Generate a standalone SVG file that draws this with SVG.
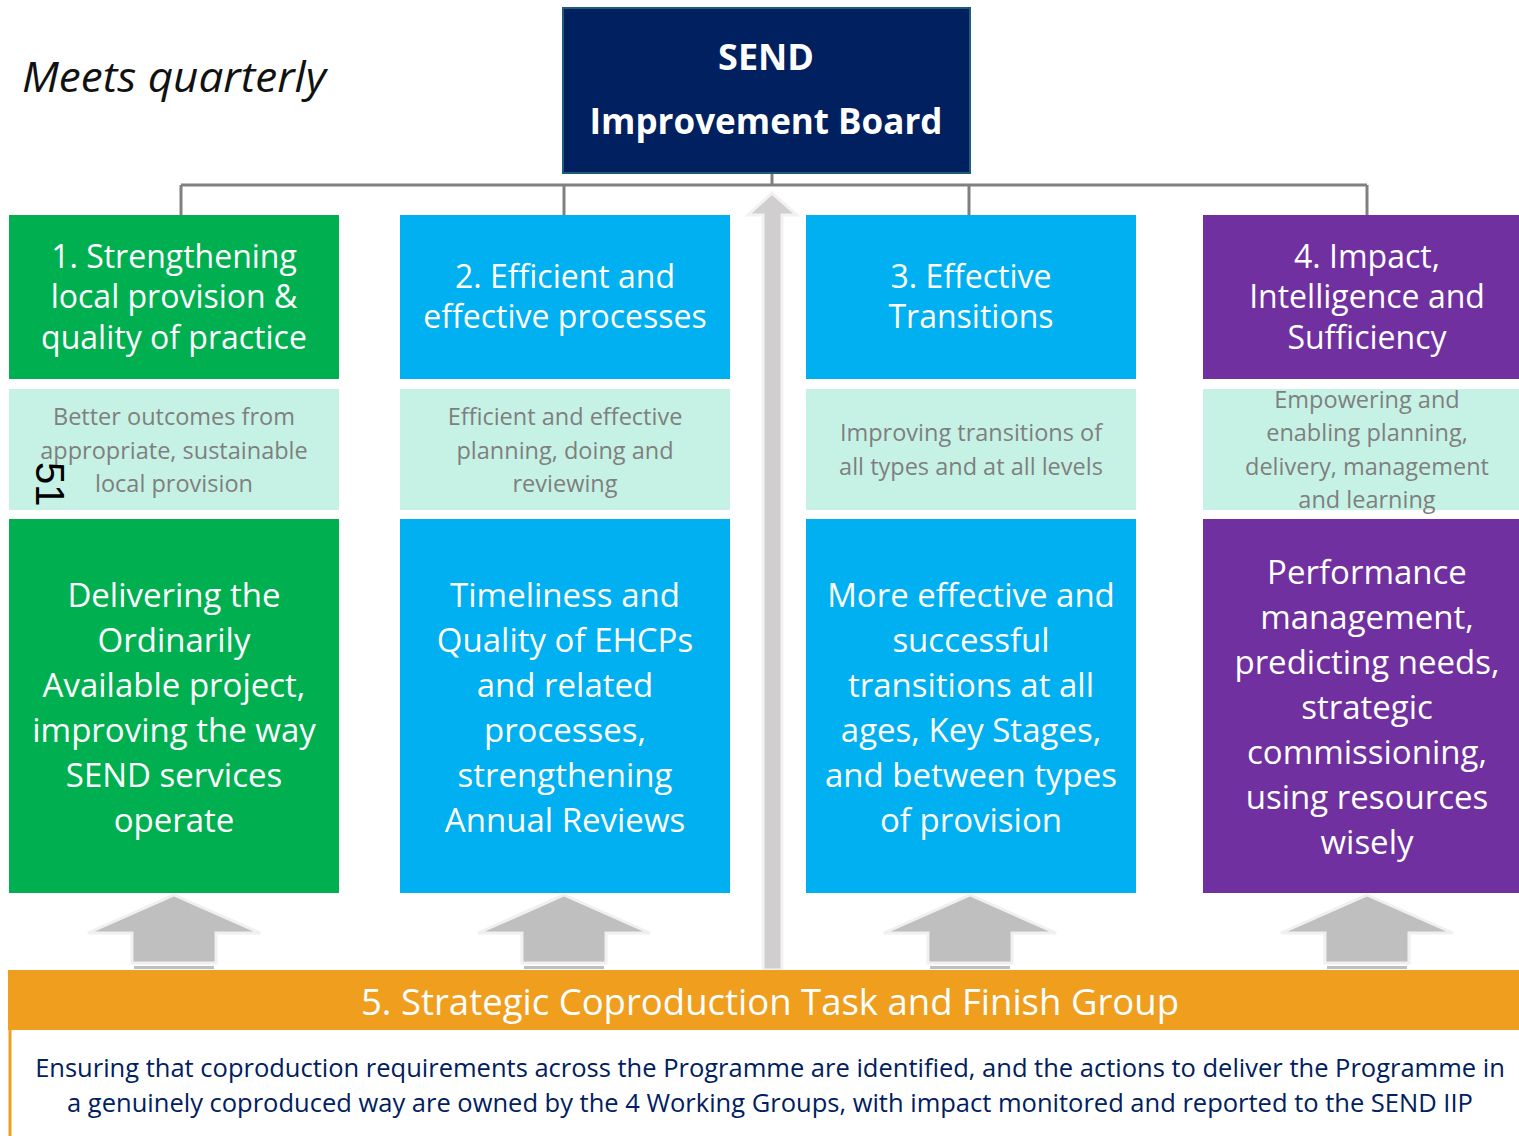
<svg xmlns="http://www.w3.org/2000/svg" width="1519" height="1136" viewBox="0 0 1519 1136">
<style>
text{font-family:"Open Sans","Noto Sans","Liberation Sans",sans-serif;text-anchor:middle}
.ttl{fill:#fff;font-size:32px}
.sub{fill:#7f7f7f;font-size:23.5px}
.big{fill:#fff;font-size:33px}
.conn{stroke:#808080;stroke-width:3;fill:none}
.green{fill:#00b050}.blue{fill:#00b0f0}.purple{fill:#7030a0}.light{fill:#c6f2e5}
</style>
<defs>
<g id="uparrow">
<polygon points="0,-75 86,-37 42,-37 42,-7 -42,-7 -42,-37 -86,-37" fill="#bfbfbf" stroke="#f0f0f0" stroke-width="3"/>
<rect x="-40" y="-4" width="80" height="3" fill="#bfbfbf"/>
</g>
</defs>
<rect width="1519" height="1136" fill="#fff"/>
<text x="22" y="92" textLength="304" lengthAdjust="spacingAndGlyphs" style="font-size:42px;font-style:italic;text-anchor:start;fill:#111">Meets quarterly</text>
<g id="connectors">
<path class="conn" d="M772,173V185M181,185H1367M181,185V215M564,185V215M969,185V215M1367,185V215"/>
<polygon points="772,193 797,215 782,215 782,970 763,970 763,215 748,215" fill="#d0cece" stroke="#f2f2f2" stroke-width="3"/>
<use href="#uparrow" x="174" y="970"/>
<use href="#uparrow" x="564" y="970"/>
<use href="#uparrow" x="970" y="970"/>
<use href="#uparrow" x="1367" y="970"/>
</g>
<g id="board">
<rect x="563" y="8" width="407" height="165" fill="#002060" stroke="#1f5c7a" stroke-width="2"/>
<text x="766" y="70" style="fill:#fff;font-size:36px;font-weight:bold">SEND</text>
<text x="766" y="134" style="fill:#fff;font-size:35px;font-weight:bold">Improvement Board</text>
</g>
<g id="wg1">
<rect class="green" x="9" y="215" width="330" height="164"/>
<text class="ttl" x="174"><tspan x="174" y="268">1. Strengthening</tspan><tspan x="174" y="308">local provision &amp;</tspan><tspan x="174" y="349">quality of practice</tspan></text>
<rect class="light" x="9" y="389" width="330" height="121"/>
<text class="sub"><tspan x="174" y="425">Better outcomes from</tspan><tspan x="174" y="459">appropriate, sustainable</tspan><tspan x="174" y="492">local provision</tspan></text>
<text x="0" y="0" transform="translate(36,462) rotate(90)" style="font-family:'Liberation Sans',sans-serif;font-size:40px;fill:#000;text-anchor:start">51</text>
<rect class="green" x="9" y="519" width="330" height="374"/>
<text class="big"><tspan x="174" y="607">Delivering the</tspan><tspan x="174" y="652">Ordinarily</tspan><tspan x="174" y="697">Available project,</tspan><tspan x="174" y="742">improving the way</tspan><tspan x="174" y="787">SEND services</tspan><tspan x="174" y="832">operate</tspan></text>
</g>
<g id="wg2">
<rect class="blue" x="400" y="215" width="330" height="164"/>
<text class="ttl"><tspan x="565" y="288">2. Efficient and</tspan><tspan x="565" y="328">effective processes</tspan></text>
<rect class="light" x="400" y="389" width="330" height="121"/>
<text class="sub"><tspan x="565" y="425">Efficient and effective</tspan><tspan x="565" y="459">planning, doing and</tspan><tspan x="565" y="492">reviewing</tspan></text>
<rect class="blue" x="400" y="519" width="330" height="374"/>
<text class="big"><tspan x="565" y="607">Timeliness and</tspan><tspan x="565" y="652">Quality of EHCPs</tspan><tspan x="565" y="697">and related</tspan><tspan x="565" y="742">processes,</tspan><tspan x="565" y="787">strengthening</tspan><tspan x="565" y="832">Annual Reviews</tspan></text>
</g>
<g id="wg3">
<rect class="blue" x="806" y="215" width="330" height="164"/>
<text class="ttl"><tspan x="971" y="288">3. Effective</tspan><tspan x="971" y="328">Transitions</tspan></text>
<rect class="light" x="806" y="389" width="330" height="121"/>
<text class="sub"><tspan x="971" y="441">Improving transitions of</tspan><tspan x="971" y="475">all types and at all levels</tspan></text>
<rect class="blue" x="806" y="519" width="330" height="374"/>
<text class="big"><tspan x="971" y="607">More effective and</tspan><tspan x="971" y="652">successful</tspan><tspan x="971" y="697">transitions at all</tspan><tspan x="971" y="742">ages, Key Stages,</tspan><tspan x="971" y="787">and between types</tspan><tspan x="971" y="832">of provision</tspan></text>
</g>
<g id="wg4">
<rect class="purple" x="1203" y="215" width="316" height="164"/>
<text class="ttl"><tspan x="1367" y="268">4. Impact,</tspan><tspan x="1367" y="308">Intelligence and</tspan><tspan x="1367" y="349">Sufficiency</tspan></text>
<rect class="light" x="1203" y="389" width="316" height="121"/>
<text class="sub"><tspan x="1367" y="408">Empowering and</tspan><tspan x="1367" y="441">enabling planning,</tspan><tspan x="1367" y="475">delivery, management</tspan><tspan x="1367" y="508">and learning</tspan></text>
<rect class="purple" x="1203" y="519" width="316" height="374"/>
<text class="big"><tspan x="1367" y="584">Performance</tspan><tspan x="1367" y="629">management,</tspan><tspan x="1367" y="674">predicting needs,</tspan><tspan x="1367" y="719">strategic</tspan><tspan x="1367" y="764">commissioning,</tspan><tspan x="1367" y="809">using resources</tspan><tspan x="1367" y="854">wisely</tspan></text>
</g>
<g id="wg5">
<rect x="8" y="970" width="1511" height="60" fill="#f09e1e"/>
<text x="770" y="1015" style="fill:#fff;font-size:36.5px">5. Strategic Coproduction Task and Finish Group</text>
<rect x="8" y="1030" width="1511" height="106" fill="#fff"/>
<line x1="10" y1="1030" x2="10" y2="1136" stroke="#f09e1e" stroke-width="3"/>
<text style="fill:#002060;font-size:25.5px"><tspan x="770" y="1077">Ensuring that coproduction requirements across the Programme are identified, and the actions to deliver the Programme in</tspan><tspan x="770" y="1112">a genuinely coproduced way are owned by the 4 Working Groups, with impact monitored and reported to the SEND IIP</tspan></text>
</g>
</svg>
